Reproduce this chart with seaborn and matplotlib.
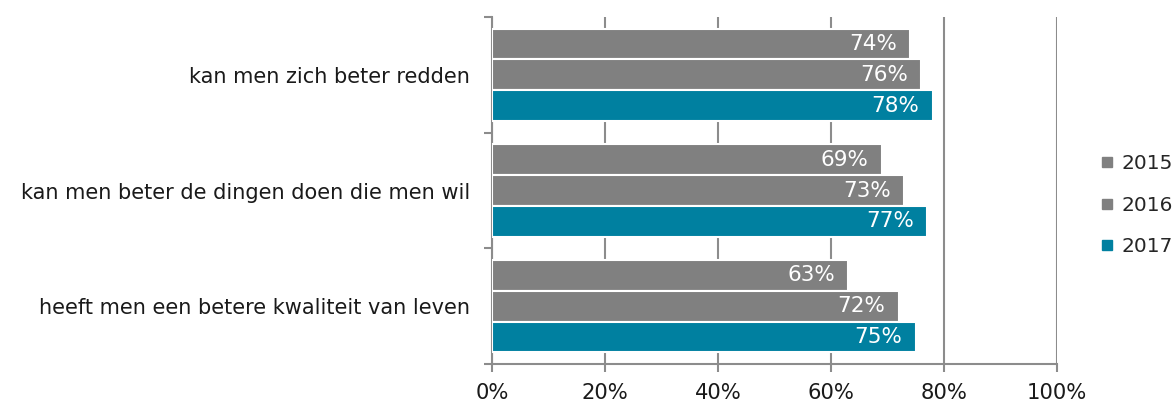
import matplotlib
matplotlib.use("Agg")
import matplotlib.pyplot as plt
import seaborn as sns
import pandas as pd
from matplotlib.lines import Line2D
from matplotlib.ticker import FuncFormatter, FixedLocator

categories = ["kan men zich beter redden",
              "kan men beter de dingen doen die men wil",
              "heeft men een betere kwaliteit van leven"]
years = ["2015", "2016", "2017"]
v2015 = [74, 69, 63]
v2016 = [76, 73, 72]
v2017 = [78, 77, 75]
xticks = [0, 20, 40, 60, 80, 100]
colors = ["#808080", "#808080", "#0080A0"]

rows = []
for yr, vals in zip(years, [v2015, v2016, v2017]):
    for c, v in zip(categories, vals):
        rows.append({"cat": c, "year": yr, "val": v})
df = pd.DataFrame(rows)

sns.set_theme(style="white")
plt.rcParams["font.family"] = ["DejaVu Sans"]

fig = plt.figure(figsize=(11.74, 4.03), dpi=100)
ax = fig.add_axes([492 / 1174, 1 - 364 / 403, (1057 - 492) / 1174, (364 - 17) / 403])

sns.barplot(data=df, y="cat", x="val", hue="year", order=categories,
            hue_order=years, palette=colors, orient="h", width=0.8,
            edgecolor="white", linewidth=1.5, saturation=1, legend=False,
            ax=ax, zorder=3)

ax.set_xlim(0, 100)
ax.set_ylim(2.5, -0.5)
ax.set_xlabel("")
ax.set_ylabel("")
ax.set_xticks(xticks)
ax.xaxis.set_major_formatter(FuncFormatter(lambda v, p: f"{int(v)}%"))
ax.grid(axis="x", color="#8c8c8c", linewidth=1.5, zorder=0)
ax.grid(axis="y", visible=False)
ax.set_axisbelow(True)

for s in ["top", "right"]:
    ax.spines[s].set_visible(False)
for s in ["left", "bottom"]:
    ax.spines[s].set_color("#8c8c8c")
    ax.spines[s].set_linewidth(1.5)

ax.tick_params(axis="x", which="major", length=6, width=1.5, color="#8c8c8c",
               labelsize=15.2, labelcolor="#1a1a1a", pad=8, direction="out", bottom=True)
ax.tick_params(axis="y", which="major", length=0, labelsize=15, labelcolor="#1a1a1a", pad=16)
ax.yaxis.set_minor_locator(FixedLocator([-0.5, 0.5, 1.5, 2.5]))
ax.tick_params(axis="y", which="minor", length=6, width=1.5, color="#8c8c8c", left=True, direction="out")

for cont, vals in zip(ax.containers, [v2015, v2016, v2017]):
    for patch, v in zip(cont.patches, vals):
        y = patch.get_y() + patch.get_height() / 2
        ax.annotate(f"{v}%", xy=(patch.get_width(), y), xytext=(-9.5, 0),
                    textcoords="offset points", ha="right", va="center",
                    color="white", fontsize=15.5, zorder=5)

handles = [Line2D([0], [0], marker="s", linestyle="", markersize=7.2,
                  markerfacecolor=c, markeredgecolor=c) for c in colors]
fig.legend(handles, years, loc="center left", bbox_to_anchor=(1099 / 1174, 0.491),
           frameon=False, fontsize=14.5, handletextpad=0.3, labelspacing=1.1,
           handlelength=0.8, borderaxespad=0, borderpad=0)

fig.savefig("out.png", dpi=100)
